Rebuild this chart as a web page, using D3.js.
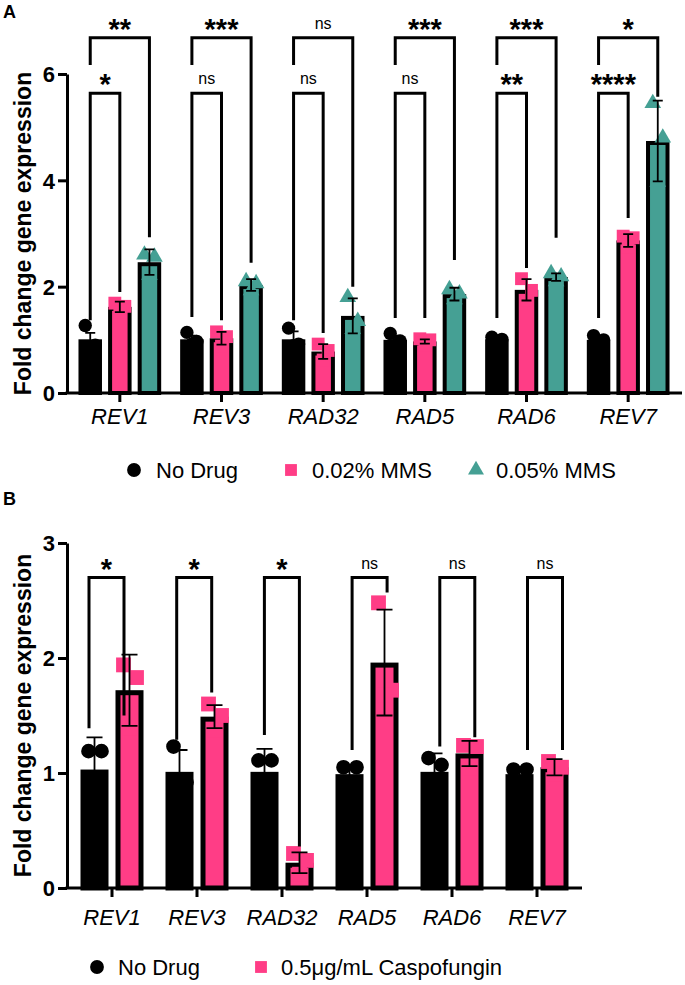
<!DOCTYPE html>
<html><head><meta charset="utf-8">
<script src="https://cdn.jsdelivr.net/npm/d3@7"></script>
<style>body{margin:0;background:#fff}svg{display:block}</style>
</head><body>
<svg id="c" width="685" height="985"></svg>
<script>
// ---------- DATA ----------
const genes = ["REV1","REV3","RAD32","RAD5","RAD6","REV7"];

// Panel A
const seriesA = ["No Drug","0.02% MMS","0.05% MMS"];
const meanA_noDrug = [1.01, 1.01, 1.01, 1.00, 1.01, 1.00];
const sdA_noDrug   = [0.12, 0.07, 0.15, 0.08, 0.04, 0.06];
const ptsA_noDrug  = [[1.27,0.90,0.86],[1.14,0.97,0.92],[1.22,0.92,0.89],[1.12,0.98,0.90],[1.05,1.01,0.97],[1.08,1.00,0.93]];
const meanA_mms02 = [1.62, 1.03, 0.78, 0.97, 1.94, 2.87];
const sdA_mms02   = [0.10, 0.12, 0.14, 0.04, 0.20, 0.12];
const ptsA_mms02  = [[1.69,1.63,1.53],[1.15,1.06,0.88],[0.92,0.80,0.62],[1.02,1.00,0.90],[2.15,1.93,1.74],[2.95,2.92,2.74]];
const meanA_mms05 = [2.46, 2.03, 1.45, 1.86, 2.18, 4.74];
const sdA_mms05   = [0.24, 0.11, 0.33, 0.12, 0.07, 0.76];
const ptsA_mms05  = [[2.60,2.56,2.22],[2.10,2.06,1.93],[1.80,1.35,1.20],[1.95,1.87,1.76],[2.25,2.19,2.10],[5.45,4.80,3.97]];
const ticksA = [0,2,4,6];
// brackets: gene, fromSeries, toSeries, level, left leg end, right leg end, label
const bracketsA = [
  ["REV1",0,1,5.64,1.37,1.90,"*"],   ["REV1",0,2,6.68,6.17,2.93,"**"],
  ["REV3",0,1,5.64,1.43,1.37,"ns"],  ["REV3",0,2,6.68,6.17,2.45,"***"],
  ["RAD32",0,1,5.64,1.37,1.13,"ns"], ["RAD32",0,2,6.68,6.17,2.00,"ns"],
  ["RAD5",0,1,5.64,1.41,1.41,"ns"],  ["RAD5",0,2,6.68,6.17,2.50,"***"],
  ["RAD6",0,1,5.64,1.41,2.35,"**"],  ["RAD6",0,2,6.68,6.17,2.92,"***"],
  ["REV7",0,1,5.64,1.41,3.29,"****"],["REV7",0,2,6.68,6.17,5.57,"*"]
];

// Panel B
const seriesB = ["No Drug","0.5\u03bcg/mL Caspofungin"];
const meanB_noDrug = [1.03, 1.01, 1.01, 0.99, 1.01, 0.99];
const sdB_noDrug   = [0.28, 0.19, 0.20, 0.06, 0.16, 0.04];
const ptsB_noDrug  = [[1.19,1.19,0.71],[1.23,0.92,0.88],[1.11,1.11,0.81],[1.05,1.05,0.88],[1.13,1.07,0.83],[1.03,1.03,0.92]];
const meanB_caspo = [1.72, 1.49, 0.22, 1.96, 1.17, 1.05];
const sdB_caspo   = [0.31, 0.10, 0.09, 0.46, 0.11, 0.07];
const ptsB_caspo  = [[1.94,1.83,1.39],[1.60,1.50,1.37],[0.30,0.24,0.12],[2.48,1.72,1.68],[1.24,1.23,1.04],[1.10,1.05,0.99]];
const ticksB = [0,1,2,3];
const bracketsB = [
  ["REV1",0,1,2.70,1.39,1.50,"*"], ["REV3",0,1,2.70,1.29,1.70,"*"],
  ["RAD32",0,1,2.70,1.33,0.36,"*"], ["RAD5",0,1,2.70,1.20,2.57,"ns"],
  ["RAD6",0,1,2.70,1.23,1.31,"ns"], ["REV7",0,1,2.70,1.20,1.20,"ns"]
];

// ---------- DRAW ----------
const PINK = "#ff3d86", TEAL = "#45a094";
const FONT = "'Liberation Sans', Arial, Helvetica, sans-serif";
const svg = d3.select("#c").style("font-family", FONT);

function panel(o){
  const g = svg.append("g");
  const y = d3.scaleLinear().domain([0, o.ymax]).range([o.y0, o.y1]);
  const x = d3.scaleBand().domain(genes).range(o.xr);
  const xi = d3.scalePoint().domain(d3.range(o.series.length)).range([-o.off, o.off]);
  const bx = o.bxr ? d3.scaleBand().domain(genes).range(o.bxr) : null;
  const cx = (gene, s) => x(gene) + x.bandwidth()/2 + xi(s);

  // bars
  o.series.forEach((s, si) => {
    const data = genes.map((gene, i) => ({gene, m: o.means[si][i], sd: o.sds[si][i], pts: o.pts[si][i]}));
    const sw = o.barStroke;
    g.append("g").selectAll("rect").data(data).join("rect")
      .attr("x", d => cx(d.gene, si) - o.barW/2 + sw/2)
      .attr("width", o.barW - sw)
      .attr("y", d => y(d.m) + sw/2)
      .attr("height", d => y(0) - y(d.m) - sw/2)
      .attr("fill", o.colors[si]).attr("stroke", "#000").attr("stroke-width", sw);
    // points
    const sym = d3.symbol().type(o.symbols[si]).size(o.symSize[si]);
    const pts = data.flatMap(d => d.pts.map((v, k) => ({gene: d.gene, v, k})));
    g.append("g").selectAll("path").data(pts).join("path")
      .attr("d", sym)
      .attr("transform", d => `translate(${cx(d.gene, si) + o.jitter[d.k]},${y(d.v)})`)
      .attr("fill", o.colors[si]);
    // error bars
    const eb = g.append("g").attr("stroke", "#000").attr("stroke-width", o.ebW).attr("fill", "none");
    eb.selectAll("path").data(data).join("path")
      .attr("d", d => {
        const c = cx(d.gene, si), t = y(d.m + d.sd), b = y(d.m - d.sd), h = o.capW/2;
        return `M${c},${t}V${b}M${c-h},${t}H${c+h}M${c-h},${b}H${c+h}`;
      });
  });

  // axes
  const ya = d3.axisLeft(y).tickValues(o.ticks).tickSize(9).tickSizeOuter(0).tickPadding(3).tickFormat(d3.format("d"));
  const yg = g.append("g").attr("transform", `translate(${o.ax},0)`).call(ya);
  yg.selectAll("line,path").attr("stroke-width", 3).attr("stroke", "#000");
  yg.selectAll("text").attr("font-size", 22).attr("font-weight", "bold").attr("font-family", FONT).attr("fill", "#000").attr("dy", "0.36em");

  g.append("line").attr("x1", o.ax - 1.5).attr("x2", o.axEnd).attr("y1", y(0)).attr("y2", y(0))
    .attr("stroke", "#000").attr("stroke-width", 3);
  const xa = d3.axisBottom(x).tickSize(o.y0 + 9).tickSizeOuter(0);
  const xg = g.append("g").call(xa);
  xg.select(".domain").remove();
  xg.selectAll("line").attr("y1", o.y0).attr("y2", o.y0 + 9).attr("stroke", "#000").attr("stroke-width", 3);
  xg.selectAll("text").attr("y", o.labelY).attr("dy", 0).attr("font-size", 22).attr("font-style", "italic")
    .attr("font-family", FONT).attr("fill", "#000");

  // y title
  g.append("text").attr("transform", `translate(${o.titleX},${(o.y0 + o.y1)/2}) rotate(-90)`)
    .attr("text-anchor", "middle").attr("font-size", 23).attr("font-weight", "bold").text("Fold change gene expression");

  // brackets
  const bg = g.append("g");
  o.brackets.forEach(b => {
    const [gene, f, t, lvl, le, re, lab] = b;
    let xl, xr;
    if (bx) { const c = bx(gene) + bx.bandwidth()/2; xl = c - o.bHalf; xr = c + o.bHalf; }
    else { xl = cx(gene, f); xr = cx(gene, t); }
    bg.append("path").attr("d", `M${xl},${y(le)}V${y(lvl)}H${xr}V${y(re)}`)
      .attr("fill", "none").attr("stroke", "#000").attr("stroke-width", 3);
    const star = lab !== "ns";
    bg.append("text").attr("x", (xl + xr)/2).attr("y", y(lvl) + (star ? o.starDy : -9))
      .attr("text-anchor", "middle").attr("font-size", star ? 29 : 16).attr("font-weight", star ? "bold" : "normal")
      .text(lab);
  });

  // legend
  const lg = g.append("g");
  o.series.forEach((s, si) => {
    const sym = d3.symbol().type(o.symbols[si]).size(o.legSize[si]);
    lg.append("path").attr("d", sym).attr("transform", `translate(${o.legSym[si]},${o.legY})`).attr("fill", o.colors[si]);
    lg.append("text").attr("x", o.legTxt[si]).attr("y", o.legY + 8).attr("font-size", 22).text(s);
  });

  svg.append("text").attr("x", 3).attr("y", o.letterY).attr("font-size", 18).attr("font-weight", "bold").text(o.letter);
}

panel({
  letter: "A", letterY: 18,
  series: seriesA,
  means: [meanA_noDrug, meanA_mms02, meanA_mms05],
  sds: [sdA_noDrug, sdA_mms02, sdA_mms05],
  pts: [ptsA_noDrug, ptsA_mms02, ptsA_mms05],
  colors: ["#000", PINK, TEAL],
  symbols: [d3.symbolCircle, d3.symbolSquare, d3.symbolTriangle],
  symSize: [140, 165, 120], legSize: [150, 140, 110],
  jitter: [-5, 5, 0],
  ymax: 6, y0: 393, y1: 74, ticks: ticksA,
  xr: [69, 679], off: 29.6, barW: 23.5, barStroke: 4,
  ax: 67, axEnd: 682, labelY: 424, titleX: 31,
  ebW: 1.8, capW: 10,
  brackets: bracketsA, starDy: 1,
  legY: 470, legSym: [134, 291, 476], legTxt: [156, 312, 496]
});

panel({
  letter: "B", letterY: 505,
  series: seriesB,
  means: [meanB_noDrug, meanB_caspo],
  sds: [sdB_noDrug, sdB_caspo],
  pts: [ptsB_noDrug, ptsB_caspo],
  colors: ["#000", PINK],
  symbols: [d3.symbolCircle, d3.symbolSquare],
  symSize: [170, 220], legSize: [150, 140],
  jitter: [-6, 7, 0],
  ymax: 3, y0: 888, y1: 543, ticks: ticksB,
  xr: [69.5, 579.5], off: 17.5, barW: 28, barStroke: 5,
  ax: 67, axEnd: 582, labelY: 925, titleX: 31,
  ebW: 1.8, capW: 16,
  brackets: bracketsB, bxr: [62.65, 588.85], bHalf: 17.5, starDy: 1,
  legY: 967, legSym: [97, 261], legTxt: [118, 281]
});
</script>
</body></html>
